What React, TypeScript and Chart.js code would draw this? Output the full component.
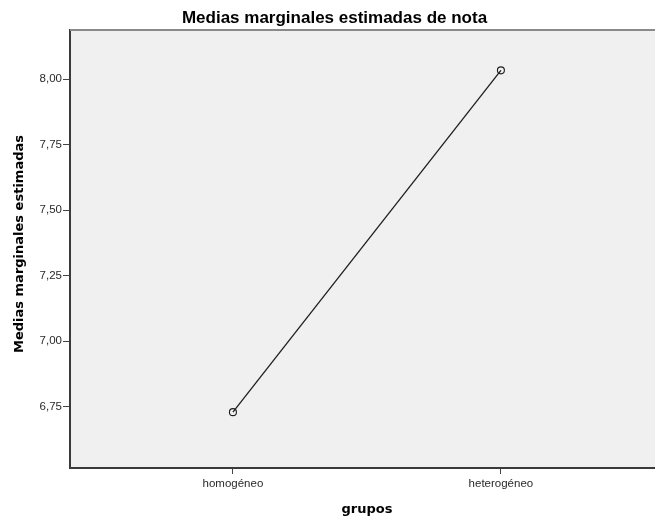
import React, { useEffect, useRef } from "react";
import { Chart, registerables } from "chart.js";

Chart.register(...registerables);

const title = "Medias marginales estimadas de nota";
const xTitle = "grupos";
const yTitle = "Medias marginales estimadas";
const categories = ["homogéneo", "heterogéneo"];
const means = [6.729, 8.033];
const yTicks = [6.75, 7.0, 7.25, 7.5, 7.75, 8.0];

const textPlugin = {
  id: "spssDecor",
  beforeDraw(chart: any) {
    const { ctx, chartArea } = chart;
    ctx.save();
    ctx.fillStyle = "#f0f0f0";
    ctx.fillRect(chartArea.left, chartArea.top, chartArea.right - chartArea.left, chartArea.bottom - chartArea.top);
    ctx.restore();
  },
  afterDraw(chart: any) {
    const { ctx, chartArea } = chart;
    ctx.save();
    ctx.strokeStyle = "#8a8a8a";
    ctx.lineWidth = 2;
    ctx.beginPath();
    ctx.moveTo(chartArea.left, chartArea.top);
    ctx.lineTo(chartArea.right, chartArea.top);
    ctx.stroke();
    ctx.fillStyle = "#000";
    ctx.font = "bold 17px 'Liberation Sans', Arial, sans-serif";
    ctx.textAlign = "center";
    ctx.textBaseline = "alphabetic";
    ctx.fillText(title, 334.5, 23);
    ctx.font = "bold 13px 'DejaVu Sans', sans-serif";
    ctx.fillText(xTitle, 367, 513);
    ctx.translate(23, 244);
    ctx.rotate(-Math.PI / 2);
    ctx.fillText(yTitle, 0, 0);
    ctx.restore();
  },
};

export default function App() {
  const ref = useRef<HTMLCanvasElement>(null);
  useEffect(() => {
    if (!ref.current) return;
    const chart = new Chart(ref.current, {
      type: "line",
      data: {
        datasets: [
          {
            data: means.map((v, i) => ({ x: i, y: v })),
            borderColor: "#1e1e1e",
            borderWidth: 1.3,
            pointRadius: 3.5,
            pointBorderColor: "#1e1e1e",
            pointBorderWidth: 1.1,
            pointBackgroundColor: "rgba(0,0,0,0)",
            fill: false,
            tension: 0,
          },
        ],
      },
      options: {
        responsive: false,
        animation: false,
        layout: { autoPadding: false, padding: { top: 30, left: 0, right: 0, bottom: 0 } },
        plugins: { legend: { display: false }, tooltip: { enabled: false }, title: { display: false } },
        scales: {
          x: {
            type: "linear",
            min: -0.608,
            max: 1.575,
            afterBuildTicks: (s: any) => {
              s.ticks = categories.map((_, i) => ({ value: i }));
            },
            afterFit: (s: any) => {
              s.height = 52;
            },
            ticks: {
              callback: (v: any) => categories[v] ?? "",
              color: "#2a2a2a",
              font: { family: "'Liberation Sans', Arial, sans-serif", size: 11.5 },
              padding: 3,
              maxRotation: 0,
              autoSkip: false,
            },
            grid: { drawOnChartArea: false, drawTicks: true, tickLength: 6, tickColor: "#444", tickWidth: 1 },
            border: { display: true, color: "#3a3a3a", width: 2 },
          },
          y: {
            type: "linear",
            min: 6.516,
            max: 8.187,
            afterBuildTicks: (s: any) => {
              s.ticks = yTicks.map((v) => ({ value: v }));
            },
            afterFit: (s: any) => {
              s.width = 70;
            },
            ticks: {
              callback: (v: any) => Number(v).toFixed(2).replace(".", ","),
              color: "#2a2a2a",
              font: { family: "'Liberation Sans', Arial, sans-serif", size: 11.5 },
              padding: 1,
            },
            grid: { drawOnChartArea: false, drawTicks: true, tickLength: 7, tickColor: "#444", tickWidth: 1 },
            border: { display: true, color: "#3a3a3a", width: 2 },
          },
        },
      },
      plugins: [textPlugin],
    } as any);
    return () => chart.destroy();
  }, []);
  return (
    <div style={{ position: "absolute", left: 0, top: 0, width: 655, height: 520, background: "#fff" }}>
      <canvas ref={ref} width={655} height={520} style={{ display: "block" }} />
    </div>
  );
}
